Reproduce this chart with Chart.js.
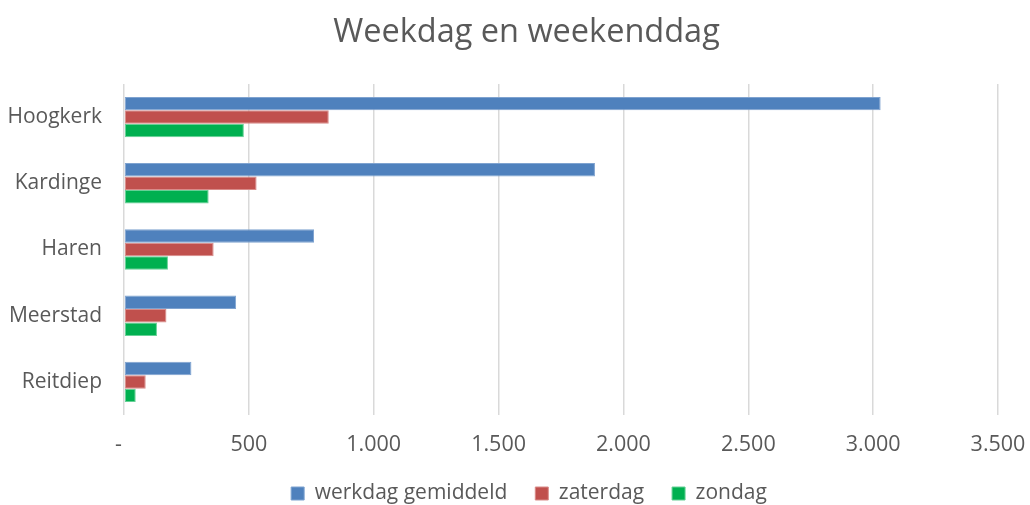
<!DOCTYPE html>
<html>
<head>
<meta charset="utf-8">
<script src="https://cdn.jsdelivr.net/npm/chart.js@4/dist/chart.umd.min.js"></script>
<style>
  html, body { margin: 0; padding: 0; background: #ffffff; }
  #wrap { width: 1030px; height: 505px; position: relative; }
</style>
</head>
<body>
<div id="wrap"><canvas id="c" width="1030" height="505"></canvas></div>
<script>
const categories = ['Hoogkerk', 'Kardinge', 'Haren', 'Meerstad', 'Reitdiep'];
const werkdagGemiddeld = [3030, 1886, 761, 449, 270];
const zaterdag = [820, 531, 359, 170, 87];
const zondag = [480, 339, 176, 132, 47];
const xTickLabels = ['-  ', '500', '1.000', '1.500', '2.000', '2.500', '3.000', '3.500'];
const seriesNames = ['werkdag gemiddeld', 'zaterdag', 'zondag'];

const FONT = '"Open Sans", sans-serif';
const TXT = '#595959';

// shift the centred title and legend so they centre like the reference
const centreShift = {
  id: 'centreShift',
  afterLayout(chart) {
    if (chart.legend) { chart.legend.left = 60; }
    if (chart.titleBlock) { chart.titleBlock.left = 55; }
  }
};

new Chart(document.getElementById('c'), {
  type: 'bar',
  data: {
    labels: categories,
    datasets: [
      { label: seriesNames[0], data: werkdagGemiddeld, backgroundColor: '#4F81BD', borderColor: '#7FA3D0', borderWidth: 1, borderSkipped: false },
      { label: seriesNames[1], data: zaterdag, backgroundColor: '#C0504D', borderColor: '#D98B89', borderWidth: 1, borderSkipped: false },
      { label: seriesNames[2], data: zondag, backgroundColor: '#00B050', borderColor: '#66D096', borderWidth: 1, borderSkipped: false }
    ]
  },
  plugins: [centreShift],
  options: {
    indexAxis: 'y',
    responsive: false,
    animation: false,
    devicePixelRatio: 1,
    layout: { padding: { top: 13, right: 32, bottom: -9, left: 0 } },
    datasets: { bar: { categoryPercentage: 0.61, barPercentage: 1.0 } },
    plugins: {
      title: {
        display: true,
        text: 'Weekdag en weekenddag',
        color: TXT,
        font: { family: FONT, size: 32.5, weight: 'normal' },
        padding: { top: 0, bottom: 32 }
      },
      legend: {
        position: 'bottom',
        labels: {
          color: TXT,
          font: { family: FONT, size: 21 },
          boxWidth: 13,
          boxHeight: 13,
          padding: 28,
          useBorderRadius: false
        }
      },
      tooltip: { enabled: false }
    },
    scales: {
      x: {
        min: 0,
        max: 3500,
        afterFit: (s) => { s.paddingRight = 0; s.paddingLeft = 0; s.height = 40; },
        ticks: {
          stepSize: 500,
          color: TXT,
          font: { family: FONT, size: 21.5 },
          padding: 17,
          callback: (v, i) => xTickLabels[i]
        },
        grid: { color: '#D9D9D9', lineWidth: 1.5, drawTicks: false },
        border: { display: false }
      },
      y: {
        afterFit: (s) => { s.width = 124; },
        ticks: {
          color: TXT,
          font: { family: FONT, size: 21 },
          padding: 22
        },
        grid: { display: false, drawTicks: false },
        border: { display: false }
      }
    }
  }
});
</script>
</body>
</html>
